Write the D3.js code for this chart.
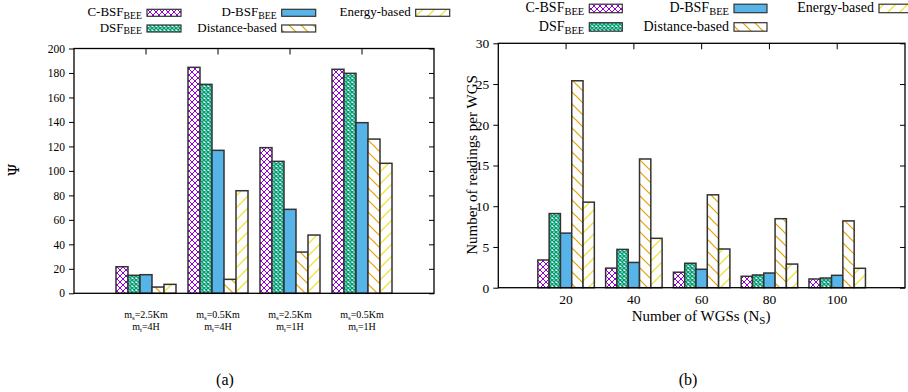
<!DOCTYPE html>
<html><head><meta charset="utf-8">
<script src="https://cdn.jsdelivr.net/npm/d3@7"></script>
<style>body{margin:0;background:#fff}svg{display:block;font-family:"Liberation Serif","Times New Roman",serif}</style>
</head><body>
<svg id="c" width="908" height="392"></svg>
<script>
// ---- data ----
const seriesMain = ["C-BSF", "DSF", "D-BSF", "Distance-based", "Energy-based"];
const seriesSub  = ["BEE", "BEE", "BEE", "", ""];
const msLabels = ["2.5Km", "0.5Km", "2.5Km", "0.5Km"];
const mtLabels = ["4H", "4H", "1H", "1H"];
const cbsfA   = [21.7, 184.6, 119.0, 183.0];
const dsfA    = [14.7, 170.7, 107.8, 179.7];
const dbsfA   = [15.2, 116.8, 68.6, 139.4];
const distA   = [5.1, 11.4, 33.7, 126.0];
const energyA = [7.3, 83.8, 47.6, 106.2];
const ticksA  = [0, 20, 40, 60, 80, 100, 120, 140, 160, 180, 200];

const nodesB  = ["20", "40", "60", "80", "100"];
const cbsfB   = [3.4, 2.4, 1.9, 1.4, 1.07];
const dsfB    = [9.1, 4.7, 3.0, 1.56, 1.19];
const dbsfB   = [6.7, 3.1, 2.26, 1.8, 1.52];
const distB   = [25.4, 15.8, 11.4, 8.47, 8.2];
const energyB = [10.5, 6.06, 4.75, 2.9, 2.38];
const ticksB  = [0, 5, 10, 15, 20, 25, 30];

const seriesA = [cbsfA, dsfA, dbsfA, distA, energyA];
const seriesB = [cbsfB, dsfB, dbsfB, distB, energyB];

// ---- drawing ----
const svg = d3.select("#c");
const defs = svg.append("defs");
function pat(id, size, bg, d, color, w) {
  const p = defs.append("pattern").attr("id", id).attr("patternUnits", "userSpaceOnUse")
    .attr("width", size).attr("height", size);
  p.append("rect").attr("width", size).attr("height", size).attr("fill", bg);
  p.append("path").attr("d", d).attr("stroke", color).attr("stroke-width", w).attr("fill", "none");
}
pat("pCross", 6, "#fff", "M0,0L6,6M6,0L0,6", "#9400D3", 1);
pat("pDense", 4, "#fff", "M0,0L4,4M4,0L0,4", "#009E73", 1.5);
pat("pBack", 12, "#fff", "M0,0L12,12M-2,10L2,14M10,-2L14,2", "#E69F00", 1.2);
pat("pFwd", 12, "#fff", "M0,12L12,0M-2,2L2,-2M10,14L14,10", "#F0E442", 1.4);
const fills = ["url(#pCross)", "url(#pDense)", "#56B4E9", "url(#pBack)", "url(#pFwd)"];
const barStroke = "#333";

function labelText(sel, main, sub, subSize) {
  sel.append("tspan").text(main);
  if (sub) sel.append("tspan").attr("font-size", subSize).attr("dy", "0.3em").text(sub);
}

function chart(opt) {
  const g = svg.append("g");
  const x = d3.scaleBand().domain(opt.cats.map((d, i) => i)).range([opt.x0, opt.x1]).paddingOuter(0.5).paddingInner(0);
  const xi = d3.scaleBand().domain(d3.range(5)).range([0, x.step()]).paddingOuter(0.5).paddingInner(0);
  const y = d3.scaleLinear().domain(opt.domain).range([opt.y0, opt.y1]);
  opt.series.forEach((vals, s) => {
    g.selectAll(null).data(vals).enter().append("rect")
      .attr("x", (d, i) => x(i) + xi(s))
      .attr("width", xi.bandwidth())
      .attr("y", d => y(d))
      .attr("height", d => y(0) - y(d))
      .attr("fill", fills[s]).attr("stroke", barStroke).attr("stroke-width", 1.5);
  });
  g.append("rect").attr("x", opt.x0).attr("y", opt.y1).attr("width", opt.x1 - opt.x0).attr("height", opt.y0 - opt.y1)
    .attr("fill", "none").attr("stroke", "#000").attr("stroke-width", 1.3);
  const yl = d3.axisLeft(y).tickValues(opt.ticks).tickSize(5).tickPadding(4);
  const ga = g.append("g").attr("transform", `translate(${opt.x0},0)`).call(yl);
  ga.select(".domain").remove();
  ga.selectAll("line").attr("stroke", "#000");
  ga.selectAll("text").attr("font-size", opt.tickFont).attr("font-family", "Liberation Serif").attr("fill", "#000");
  const yr = d3.axisRight(y).tickValues(opt.ticks).tickSize(-5).tickFormat("");
  const gr = g.append("g").attr("transform", `translate(${opt.x1},0)`).call(yr);
  gr.select(".domain").remove(); gr.selectAll("line").attr("stroke", "#000");
  opt.cats.forEach((c, i) => {
    const cx = x(i) + x.bandwidth() / 2;
    g.append("line").attr("x1", cx).attr("x2", cx).attr("y1", opt.y1).attr("y2", opt.y1 + 6).attr("stroke", "#000").attr("stroke-width", 1);
  });
  return { x, y, g };
}

// Chart (a)
const A = chart({ cats: msLabels, series: seriesA, x0: 74, x1: 434, y0: 293.3, y1: 48.5, domain: [0, 200], ticks: ticksA, tickFont: 11.5 });
msLabels.forEach((m, i) => {
  const cx = A.x(i) + A.x.bandwidth() / 2;
  const t1 = svg.append("text").attr("x", cx).attr("y", 318).attr("text-anchor", "middle").attr("font-size", 10);
  t1.append("tspan").text("m"); t1.append("tspan").attr("font-size", 7).attr("dy", 2).text("s"); t1.append("tspan").attr("dy", -2).text("=" + m);
  const t2 = svg.append("text").attr("x", cx).attr("y", 330).attr("text-anchor", "middle").attr("font-size", 10);
  t2.append("tspan").text("m"); t2.append("tspan").attr("font-size", 7).attr("dy", 2).text("t"); t2.append("tspan").attr("dy", -2).text("=" + mtLabels[i]);
});
svg.append("text").attr("transform", "translate(19,170) rotate(-90)").attr("text-anchor", "middle")
  .attr("font-size", 15).attr("font-family", "DejaVu Serif").text("Ψ");

// Chart (b)
const B = chart({ cats: nodesB, series: seriesB, x0: 498.3, x1: 905, y0: 287.7, y1: 43.3, domain: [0, 30], ticks: ticksB, tickFont: 13.5 });
nodesB.forEach((n, i) => {
  svg.append("text").attr("x", B.x(i) + B.x.bandwidth() / 2).attr("y", 304).attr("text-anchor", "middle").attr("font-size", 13.5).text(n);
});
const xlab = svg.append("text").attr("x", 701).attr("y", 321).attr("text-anchor", "middle").attr("font-size", 15);
xlab.append("tspan").text("Number of WGSs (N");
xlab.append("tspan").attr("font-size", 11).attr("dy", 3).text("S");
xlab.append("tspan").attr("dy", -3).text(")");
svg.append("text").attr("transform", "translate(477,165) rotate(-90)").attr("text-anchor", "middle")
  .attr("font-size", 15).text("Number of readings per WGS");

// Legends
function legend(cfg) {
  const pos = [[0, 0], [0, 1], [1, 0], [1, 1], [2, 0]];
  seriesMain.forEach((name, s) => {
    const [c, r] = pos[s];
    const sx = cfg.cols[c], sy = cfg.rows[r];
    svg.append("rect").attr("x", sx).attr("y", sy).attr("width", cfg.w).attr("height", cfg.h)
      .attr("fill", fills[s]).attr("stroke", barStroke).attr("stroke-width", 1.2);
    const t = svg.append("text").attr("x", sx - 5).attr("y", sy + cfg.h - 0.5).attr("text-anchor", "end").attr("font-size", cfg.font);
    labelText(t, name, seriesSub[s], cfg.font * 0.75);
  });
}
legend({ cols: [147, 281.7, 415.7], rows: [9.3, 25], w: 34, h: 7, font: 13 });
legend({ cols: [589.3, 734, 879], rows: [4.2, 22.7], w: 33, h: 8.5, font: 14 });

// captions
svg.append("text").attr("x", 225).attr("y", 385).attr("text-anchor", "middle").attr("font-size", 16).text("(a)");
svg.append("text").attr("x", 688).attr("y", 385).attr("text-anchor", "middle").attr("font-size", 16).text("(b)");
</script>
</body></html>
